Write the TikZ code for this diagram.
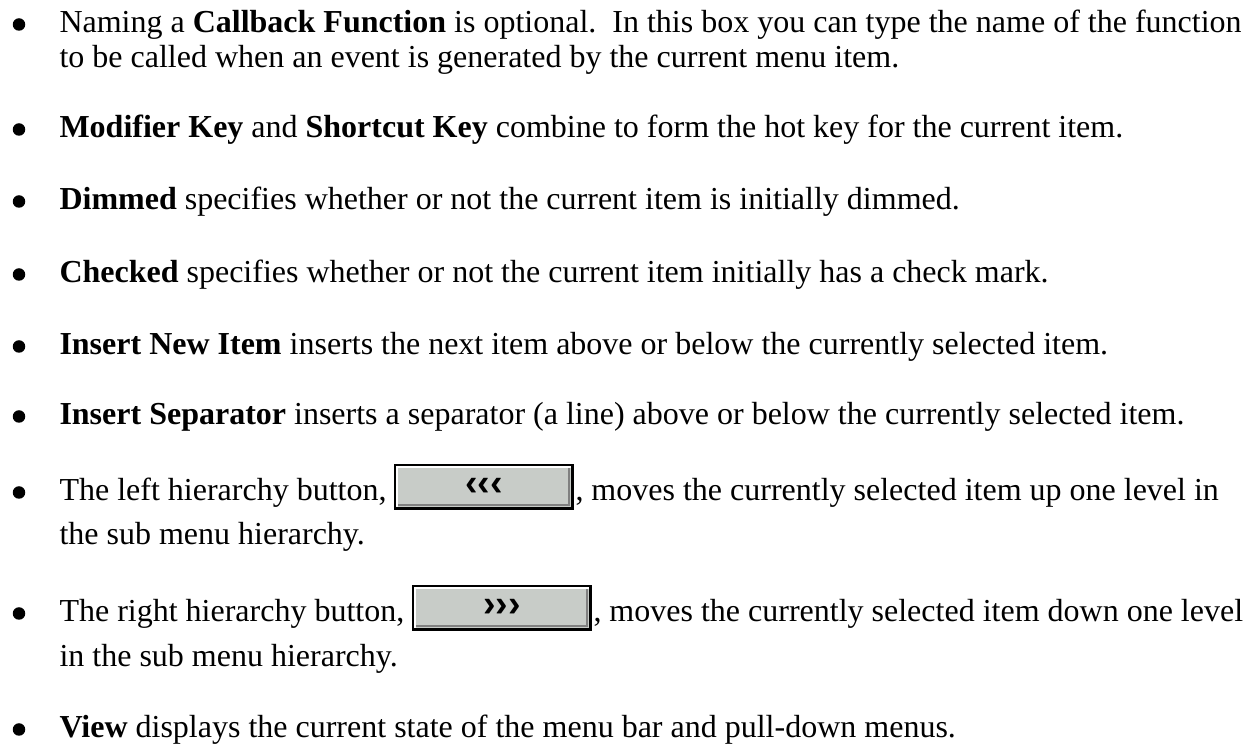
\documentclass[tikz,border=0pt]{standalone}
\usepackage{fontspec}
\setmainfont{Liberation Serif}
\newfontfamily\btnfont{Liberation Sans}
\usetikzlibrary{positioning}
\definecolor{btnface}{RGB}{200,204,200}
\definecolor{btnshade}{RGB}{128,128,128}
\newcommand{\bevel}[1]{%
\draw[white, line width=0.9pt] ([shift={(2.5,-2.5)}]#1.south west) -- ([shift={(2.5,2.5)}]#1.north west) -- ([shift={(-2.5,2.5)}]#1.north east);
\draw[btnshade, line width=0.9pt] ([shift={(3.5,-4.5)}]#1.south west) -- ([shift={(-4.5,-4.5)}]#1.south east) -- ([shift={(-4.5,3.5)}]#1.north east);
\draw[black, line width=1.1pt] ([shift={(0,-1)}]#1.south west) -- ([shift={(-1,-1)}]#1.south east) -- ([shift={(-1,0)}]#1.north east);}

\begin{document}
\begin{tikzpicture}[x=0.4pt,y=-0.4pt, font=\fontsize{12.8}{15}\selectfont,
  line/.style={anchor=base west, inner sep=0pt},
  dot/.style={circle, fill=black, inner sep=0pt, minimum size=5pt},
  button/.style={fill=btnface, draw=black, line width=0.5pt, minimum width=71.2pt, minimum height=17.6pt, inner sep=0pt, font=\btnfont\bfseries\fontsize{15}{16}\selectfont}]
\useasboundingbox (0,0) rectangle (1254,744);
\node[dot] (dot1) at (19,24.5) {};
\node[line] (item1a) at (59,33) {Naming a \textbf{Callback Function} is optional.\ \ In this box you can type the name of the function};
\node[line] (item1b) at (59,68) {to be called when an event is generated by the current menu item.};
\node[dot] (dot2) at (19,129.5) {};
\node[line] (item2) at (59,138) {\textbf{Modifier Key} and \textbf{Shortcut Key} combine to form the hot key for the current item.};
\node[dot] (dot3) at (19,201.5) {};
\node[line] (item3) at (59,210) {\textbf{Dimmed} specifies whether or not the current item is initially dimmed.};
\node[dot] (dot4) at (19,274.5) {};
\node[line] (item4) at (59,283) {\textbf{Checked} specifies whether or not the current item initially has a check mark.};
\node[dot] (dot5) at (19,346.5) {};
\node[line] (item5) at (59,355) {\textbf{Insert New Item} inserts the next item above or below the currently selected item.};
\node[dot] (dot6) at (19,416.5) {};
\node[line] (item6) at (59,425) {\textbf{Insert Separator} inserts a separator (a line) above or below the currently selected item.};
% left hierarchy button
\node[dot] (dot7) at (19,492.5) {};
\node[line] (item7a) at (59,501) {The left hierarchy button,};
\node[button] (leftbtn) at (484,487) {\raisebox{-1.5pt}{‹‹‹}};
\bevel{leftbtn}
\node[line] (item7b) at (575,501) {, moves the currently selected item up one level in};
\node[line] (item7c) at (59,545) {the sub menu hierarchy.};
% right hierarchy button
\node[dot] (dot8) at (19,613.5) {};
\node[line] (item8a) at (59,622) {The right hierarchy button,};
\node[button] (rightbtn) at (502,608) {\raisebox{-1.5pt}{›››}};
\bevel{rightbtn}
\node[line] (item8b) at (593,622) {, moves the currently selected item down one level};
\node[line] (item8c) at (59,667) {in the sub menu hierarchy.};
\node[dot] (dot9) at (19,729.5) {};
\node[line] (item9) at (59,738) {\textbf{View} displays the current state of the menu bar and pull-down menus.};
\end{tikzpicture}
\end{document}
